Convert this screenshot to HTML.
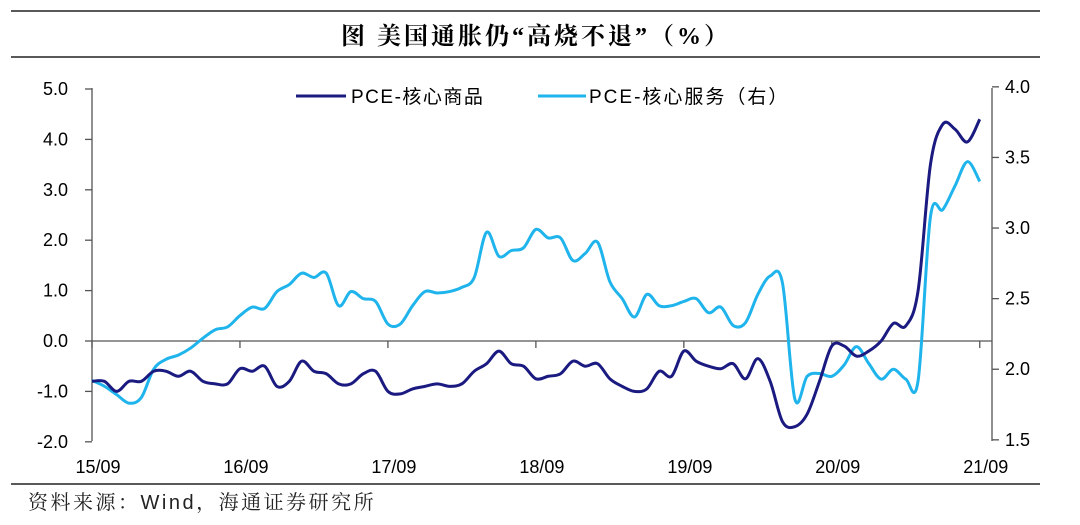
<!DOCTYPE html>
<html><head><meta charset="utf-8"><style>
body{margin:0;background:#fff;}
svg text{font-family:"Liberation Sans","Noto Sans CJK SC",sans-serif;}
</style></head><body>
<svg width="1080" height="520" viewBox="0 0 1080 520" xmlns="http://www.w3.org/2000/svg">
<line x1="11" y1="11" x2="1040" y2="11" stroke="#222" stroke-width="1.5"/>
<line x1="11" y1="57" x2="1040" y2="57" stroke="#222" stroke-width="1.5"/>
<line x1="11" y1="484" x2="1040" y2="484" stroke="#222" stroke-width="1.5"/>
<text x="536" y="44" text-anchor="middle" font-size="24" font-weight="bold" letter-spacing="3" style="font-family:'Liberation Serif','Noto Serif CJK SC',serif">图 美国通胀仍“高烧不退”（%）</text>
<text x="28" y="509" font-size="20" letter-spacing="2.5" fill="#222" style="font-family:'Liberation Sans','Noto Serif CJK SC',serif">资料来源：Wind，海通证券研究所</text>
<g>
<line x1="296" y1="96" x2="346" y2="96" stroke="#1a1a80" stroke-width="3"/>
<text x="351" y="103" font-size="19" letter-spacing="1.5">PCE-核心商品</text>
<line x1="538" y1="96" x2="586" y2="96" stroke="#1fb4ec" stroke-width="3"/>
<text x="589" y="103" font-size="19" letter-spacing="2">PCE-核心服务（右）</text>
</g>
<g id="axes"></g>
<g id="series"></g>
</svg>
<script>
const xLabels=["15/09","16/09","17/09","18/09","19/09","20/09","21/09"];
const leftTicks=[5,4,3,2,1,0,-1,-2];
const rightTicks=[4.0,3.5,3.0,2.5,2.0,1.5];
const goods=[-0.8,-0.8,-1.0,-0.8,-0.8,-0.6,-0.6,-0.7,-0.6,-0.8,-0.85,-0.85,-0.55,-0.6,-0.5,-0.9,-0.8,-0.4,-0.6,-0.65,-0.85,-0.85,-0.65,-0.6,-1.0,-1.05,-0.95,-0.9,-0.85,-0.9,-0.85,-0.6,-0.45,-0.2,-0.45,-0.5,-0.75,-0.7,-0.65,-0.4,-0.5,-0.45,-0.75,-0.9,-1.0,-0.95,-0.6,-0.7,-0.2,-0.4,-0.5,-0.55,-0.45,-0.75,-0.35,-0.8,-1.6,-1.7,-1.45,-0.8,-0.1,-0.1,-0.3,-0.2,0.0,0.35,0.3,1.0,3.5,4.3,4.2,3.95,4.4];
const services=[1.92,1.88,1.82,1.76,1.8,2.0,2.07,2.1,2.15,2.22,2.28,2.3,2.38,2.44,2.43,2.55,2.6,2.68,2.65,2.68,2.45,2.55,2.5,2.48,2.32,2.32,2.45,2.55,2.54,2.55,2.58,2.65,2.97,2.8,2.84,2.86,2.99,2.93,2.93,2.77,2.82,2.9,2.62,2.5,2.37,2.53,2.45,2.45,2.48,2.5,2.4,2.44,2.31,2.33,2.53,2.66,2.61,1.79,1.95,1.97,1.95,2.03,2.16,2.04,1.93,2.0,1.93,1.92,3.08,3.13,3.3,3.47,3.33];
const NS="http://www.w3.org/2000/svg";
const X0=92,MONTH=12.33;
const xs=i=>X0+i*MONTH;
const yL=v=>341-v*50.4;
const yR=v=>341-(v-2.2)*141.2;
const axes=document.getElementById('axes'),ser=document.getElementById('series');
function mk(tag,attrs,parent){const e=document.createElementNS(NS,tag);for(const k in attrs)e.setAttribute(k,attrs[k]);parent.appendChild(e);return e;}
let e;
e=mk('line',{x1:92,y1:88,x2:92,y2:441,stroke:'#555','stroke-width':1.3},axes);


e=mk('line',{x1:992,y1:88,x2:992,y2:441,stroke:'#555','stroke-width':1.3},axes);


e=mk('line',{x1:92,y1:341,x2:992,y2:341,stroke:'#555','stroke-width':1.3},axes);


leftTicks.forEach(v=>{
 const y=yL(v);
 mk('line',{x1:85,y1:y,x2:92,y2:y,stroke:'#555','stroke-width':1.3},axes);
 const t=mk('text',{x:68,y:y+6,'text-anchor':'end','font-size':18},axes);
 t.textContent=v.toFixed(1);
 
 
});
rightTicks.forEach(v=>{
 const y=yR(v);
 mk('line',{x1:992,y1:y,x2:999,y2:y,stroke:'#555','stroke-width':1.3},axes);
 const t=mk('text',{x:1005,y:y+6,'font-size':18},axes);
 t.textContent=v.toFixed(1);
 
 
});
xLabels.forEach((l,i)=>{
 const x=xs(i*12);
 mk('line',{x1:x,y1:341,x2:x,y2:348,stroke:'#555','stroke-width':1.3},axes);
 const t=mk('text',{x:x+6,y:473,'text-anchor':'middle','font-size':18},axes);
 t.textContent=l;
 
 
});
function path(vals,yf){
 const p=vals.map((v,i)=>[xs(i),yf(v)]);
 let d=`M${p[0][0]},${p[0][1]}`;
 for(let i=0;i<p.length-1;i++){
  const p0=p[Math.max(0,i-1)],p1=p[i],p2=p[i+1],p3=p[Math.min(p.length-1,i+2)];
  const c1=[p1[0]+(p2[0]-p0[0])/6,p1[1]+(p2[1]-p0[1])/6];
  const c2=[p2[0]-(p3[0]-p1[0])/6,p2[1]-(p3[1]-p1[1])/6];
  d+=` C${c1[0]},${c1[1]} ${c2[0]},${c2[1]} ${p2[0]},${p2[1]}`;
 }
 return d;
}
e=mk('path',{d:path(services,yR),fill:'none',stroke:'#1fb4ec','stroke-width':3,'stroke-linejoin':'round'},ser);


e=mk('path',{d:path(goods,yL),fill:'none',stroke:'#1a1a80','stroke-width':3,'stroke-linejoin':'round'},ser);


</script>
</body></html>
